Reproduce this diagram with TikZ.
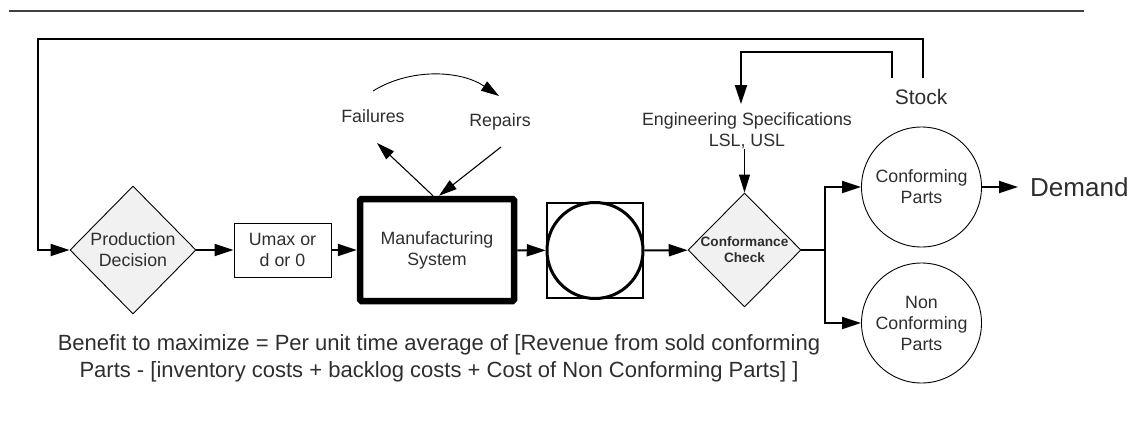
\documentclass[tikz,border=0pt]{standalone}
\usepackage{fontspec}
\setmainfont{Liberation Sans}
\usetikzlibrary{arrows.meta,shapes.geometric,calc}
\definecolor{txt}{HTML}{2E2E2E}
\definecolor{dfill}{HTML}{F1F1F1}
\begin{document}
\begin{tikzpicture}[x=1pt,y=-1pt,
  every node/.style={text=txt,inner sep=0pt,align=center,font=\fontsize{17.8}{21}\selectfont},
  tip/.style={-{Triangle[length=19pt,width=12pt]}},
  flow/.style={tip,line width=2pt},
  thinflow/.style={-{Triangle[length=18pt,width=11pt]},line width=1.1pt},
  dia/.style={diamond,draw=black,line width=0.9pt,fill=dfill,inner sep=0pt},
  circ/.style={circle,draw=black,line width=0.9pt,minimum size=120pt},
  plainbox/.style={rectangle,draw=black,line width=1pt}]
\useasboundingbox (0,0) rectangle (1138,434);
\draw[black!75,line width=1.4pt] (9,11) -- (1084,11);

% main nodes
\node[dia,minimum width=126pt,minimum height=128pt,
  label={center:{Production\\Decision}}] (pd) at (133,250) {};
\node[plainbox,minimum width=97pt,minimum height=54pt] (umax) at (282.5,250) {Umax or\\d or 0};
\node[rectangle,draw=black,line width=6.5pt,rounded corners=1.5pt,
  minimum width=154pt,minimum height=102pt] (mfg) at (437,250) {Manufacturing\\System};
\node[rectangle,draw=black,line width=2.5pt,minimum width=96pt,minimum height=95pt] (buf) at (595,250.5) {};
\node[circle,draw=black,line width=3pt,minimum size=96pt] (bufc) at (595,250.5) {};
\node[dia,minimum width=113pt,minimum height=114pt,
  label={[font=\fontsize{13.6}{16}\selectfont\bfseries]center:{Conformance\\Check}}] (cc) at (744.5,250) {};
\node[circ] (conf) at (921.5,187) {Conforming\\Parts};
\node[circ] (nonc) at (921.5,323) {Non\\Conforming\\Parts};
\node[anchor=west,font=\fontsize{26}{30}\selectfont] (demand) at (1030,187) {Demand};

% labels
\node (fail) at (373,116) {Failures};
\node (rep) at (500,122) {Repairs};
\node (es) at (747,130.5) {Engineering Specifications\\LSL, USL};
\node[font=\fontsize{21}{25}\selectfont] (stock) at (921,97) {Stock};
\node[font=\fontsize{22}{27}\selectfont] (benefit) at (439,358.5)
  {Benefit to maximize = Per unit time average of [Revenue from sold conforming\\
   Parts - [inventory costs + backlog costs + Cost of Non Conforming Parts] ]};

% main flow
\draw[flow] (pd) -- (umax);
\draw[flow] (umax) -- (mfg);
\draw[flow] (mfg) -- (buf);
\draw[flow] (buf) -- (cc);

% split
\coordinate (split) at (825,250);
\draw[line width=2pt] (cc.east) -- (split);
\draw[flow] (split) |- (conf.west);
\draw[flow] (split) |- (nonc.west);
\draw[flow,shorten >=12pt] (conf.east) -- (demand.west);

% feedback loops from stock
\coordinate (souter) at (923,78);
\coordinate (sinner) at (892,78);
\coordinate (otop) at (37.7,39);
\coordinate (itop) at (741,52);
\coordinate (esin) at (741,104);
\draw[flow] (souter) |- (otop) |- (pd.west);
\draw[flow] (sinner) |- (itop) -- (esin);
\draw[thinflow] (es.south -| cc.north) -- (cc.north);

% failures / repairs
\draw[thinflow] ([xshift=-4pt]mfg.north) -- ($(fail.center)+(4,27)$);
\draw[thinflow] ($(rep.center)+(1,25)$) -- ([xshift=2pt]mfg.north);
\draw[-{Triangle[length=18pt,width=11pt]},line width=0.9pt]
  ($(fail.center)+(0,-25)$) .. controls (410,68) and (460,70) .. ($(rep.center)+(-1,-26)$);
\end{tikzpicture}
\end{document}
